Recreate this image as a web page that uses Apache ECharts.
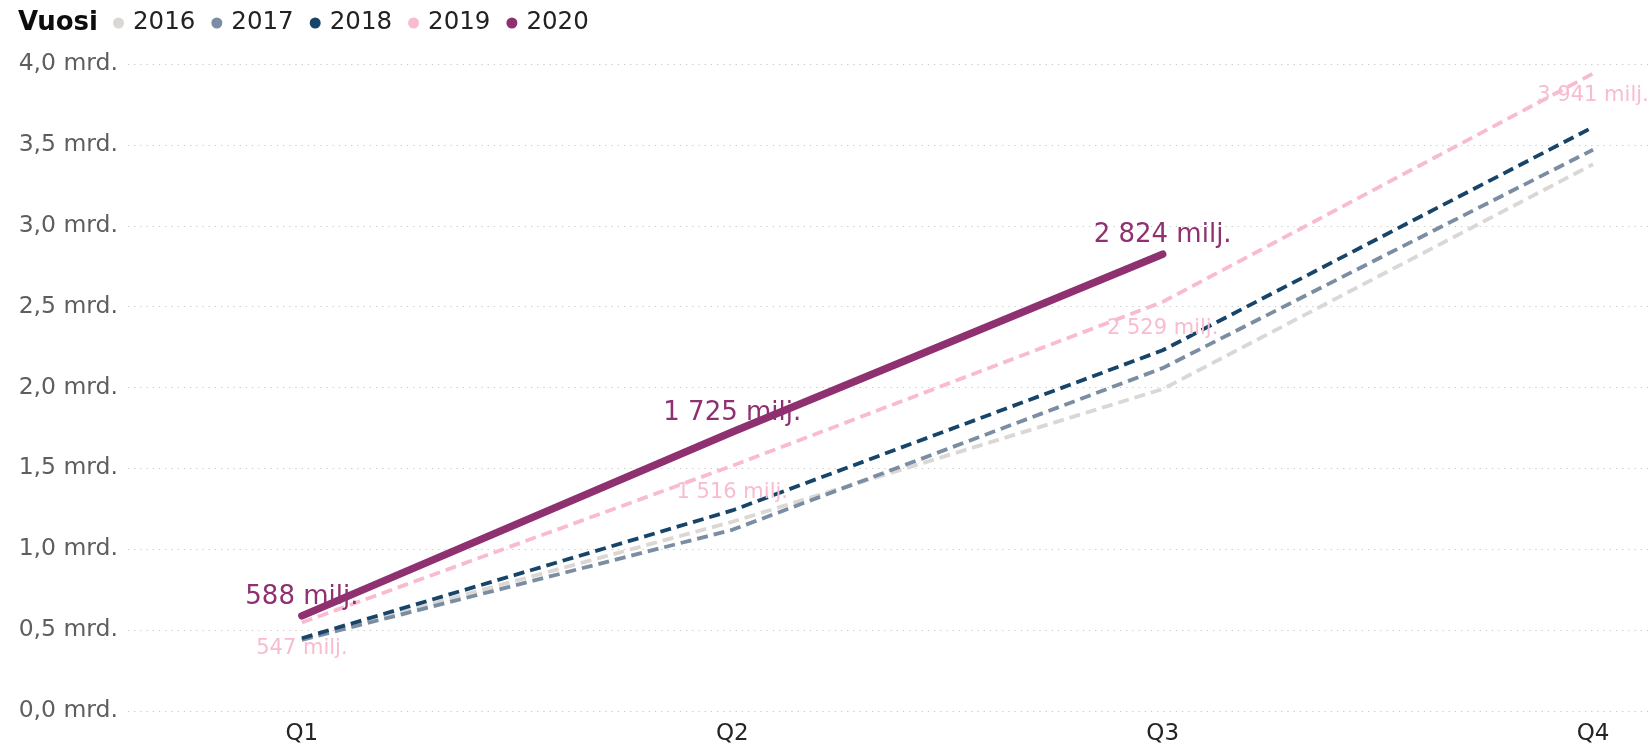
<!DOCTYPE html>
<html>
<head>
<meta charset="utf-8">
<script src="https://cdn.jsdelivr.net/npm/echarts@6/dist/echarts.min.js"></script>
<style>
html,body{margin:0;padding:0;background:#fff;}
#c{width:1652px;height:750px;}
</style>
</head>
<body>
<div id="c"></div>
<script>
// Data (values in millions of euros)
const categories = ['Q1', 'Q2', 'Q3', 'Q4'];
const years = ['2016', '2017', '2018', '2019', '2020'];
const v2016 = [445, 1170, 1990, 3380];
const v2017 = [440, 1120, 2120, 3470];
const v2018 = [450, 1240, 2230, 3610];
const v2019 = [547, 1516, 2529, 3941];
const v2020 = [588, 1725, 2824];
const yTicks = [0, 500, 1000, 1500, 2000, 2500, 3000, 3500, 4000];

const colors = {
  '2016': '#DAD7D4',
  '2017': '#7A8DA2',
  '2018': '#17456A',
  '2019': '#F8BBD0',
  '2020': '#8F3170'
};
const FONT = '"DejaVu Sans", "Open Sans", sans-serif';

function fmtMilj(v) {
  return String(Math.round(v)).replace(/\B(?=(\d{3})+(?!\d))/g, ' ') + ' milj.';
}
function pts(arr) { return arr.map((v, i) => [i, v]); }

function dashed(name, arr, withLabel) {
  const s = {
    name: name,
    type: 'line',
    data: pts(arr),
    symbol: 'circle',
    symbolSize: 0.01,
    showSymbol: true,
    lineStyle: { color: colors[name], width: 3.8, type: [11, 6], cap: 'butt' },
    itemStyle: { color: colors[name] },
    emphasis: { disabled: true },
    z: 2
  };
  if (withLabel) {
    s.data = arr.map((v, i) => ({
      value: [i, v],
      label: { distance: i === arr.length - 1 ? 11 : 16 }
    }));
    s.label = {
      show: true, position: 'bottom', distance: 16,
      color: colors[name], fontSize: 21, fontFamily: FONT,
      formatter: p => fmtMilj(p.value[1])
    };
  }
  return s;
}

const chart = echarts.init(document.getElementById('c'), null, { renderer: 'canvas' });
chart.setOption({
  animation: false,
  backgroundColor: '#ffffff',
  title: {
    text: 'Vuosi', left: 18, top: 10, padding: 0,
    textStyle: { fontFamily: FONT, fontWeight: 900, fontSize: 26, color: '#0d0d0d', lineHeight: 26 }
  },
  legend: {
    data: years,
    left: 113, top: 10, padding: 0,
    icon: 'circle', itemWidth: 11, itemHeight: 11, itemGap: 16,
    textStyle: { fontFamily: FONT, fontSize: 24.5, color: '#222', padding: [0, 0, 0, 4], lineHeight: 26 }
  },
  grid: { left: 128, right: 0, top: 64, bottom: 39, containLabel: false },
  xAxis: {
    type: 'value',
    min: -0.404, max: 3.137,
    axisLine: { show: false },
    axisTick: { show: false },
    splitLine: { show: false },
    axisLabel: {
      customValues: [0, 1, 2, 3],
      formatter: v => categories[Math.round(v)],
      fontFamily: FONT, fontSize: 23, color: '#252423', margin: 12
    }
  },
  yAxis: {
    type: 'value',
    min: yTicks[0], max: yTicks[yTicks.length - 1], interval: 500,
    axisLine: { show: false },
    axisTick: { show: false },
    splitLine: { show: true, lineStyle: { color: '#C8C6C4', type: [1.2, 5], width: 1.2 } },
    axisLabel: {
      formatter: v => (v / 1000).toFixed(1).replace('.', ',') + ' mrd.',
      fontFamily: FONT, fontSize: 23.5, color: '#605E5C', margin: 10
    }
  },
  series: [
    dashed('2016', v2016, false),
    dashed('2017', v2017, false),
    dashed('2018', v2018, false),
    dashed('2019', v2019, true),
    {
      name: '2020', type: 'line', data: pts(v2020),
      symbol: 'circle', symbolSize: 0.01, showSymbol: true,
      lineStyle: { color: colors['2020'], width: 7.5, cap: 'round', join: 'round' },
      itemStyle: { color: colors['2020'] },
      emphasis: { disabled: true },
      label: {
        show: true, position: 'top', distance: 6,
        color: colors['2020'], fontSize: 26, fontFamily: FONT,
        formatter: p => fmtMilj(p.value[1])
      },
      z: 3
    }
  ]
});
</script>
</body>
</html>
